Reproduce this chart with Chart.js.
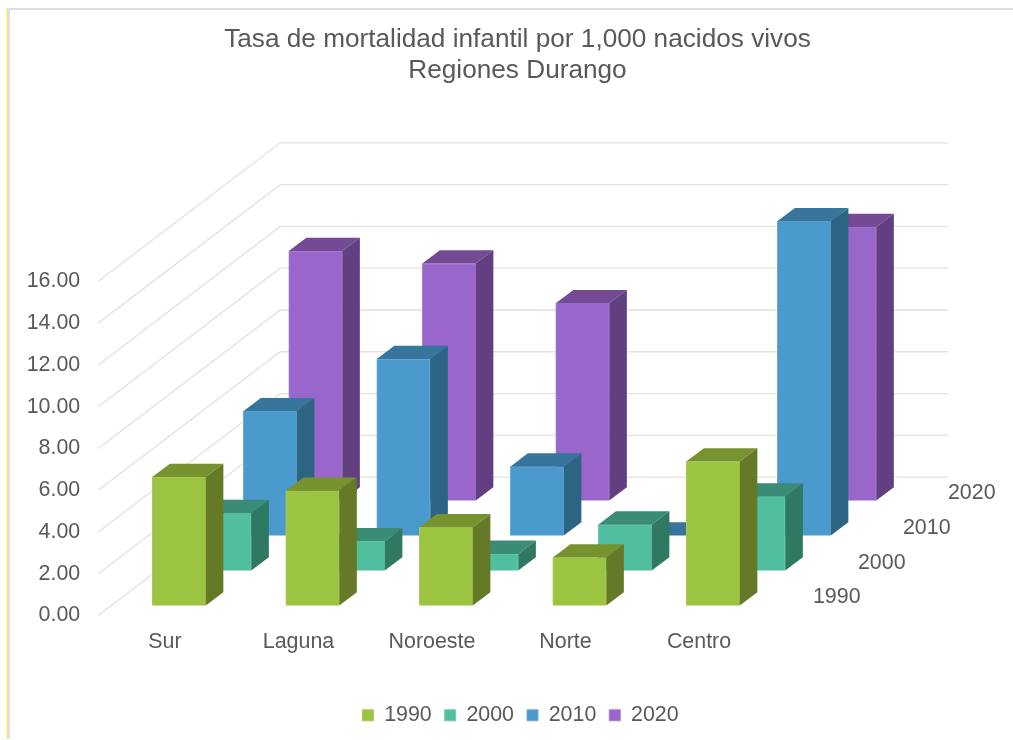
<!DOCTYPE html>
<html>
<head>
<meta charset="utf-8">
<script src="https://cdn.jsdelivr.net/npm/chart.js@4"></script>
<style>
html,body{margin:0;padding:0;background:#fff;}
#frame{position:absolute;left:7px;top:8px;width:1006px;height:731px;box-sizing:border-box;border-top:2px solid #dcdcdc;border-left:1px solid #f7f000;}
#frame:before{content:"";position:absolute;left:0;top:-2px;width:2px;height:calc(100% + 2px);background:#dce1ee;}
canvas{position:absolute;left:0;top:0;}
</style>
</head>
<body>
<div id="frame"></div>
<canvas id="c" width="1013" height="740"></canvas>
<script>
const titleLines = ["Tasa de mortalidad infantil por 1,000 nacidos vivos", "Regiones Durango"];
const categories = ["Sur", "Laguna", "Noroeste", "Norte", "Centro"];
const seriesNames = ["1990", "2000", "2010", "2020"];
const values1990 = [6.15, 5.5, 3.75, 2.3, 6.9];
const values2000 = [2.75, 1.4, 0.8, 2.2, 3.55];
const values2010 = [5.95, 8.45, 3.3, 0, 15.05];
const values2020 = [11.95, 11.35, 9.45, 0, 13.1];
const yTicks = [0, 2, 4, 6, 8, 10, 12, 14, 16];
const frontColors = ["#9BC441", "#50BFA0", "#4A9ACD", "#9966CC"];
const topColors = ["#76932F", "#3A8C77", "#37759C", "#754A95"];
const sideColors = ["#657A27", "#2F7963", "#2C6484", "#613F80"];
const edgeColors = ["#A8CC58", "#70CBB2", "#6DAED8", "#A97FD6"];

const TEXT = "#595959";
const FONT = "'Liberation Sans', Arial, sans-serif";
const base = {x: 14, y: -10};      // floor offset of the front row
const step = {x: 45.5, y: -35};    // offset between depth rows
const face = {x: 17.6, y: -13.3};  // depth of a bar
const wall = {x: 182, y: -138.5, right: 948};

const poly = (ctx, pts, color) => {
  ctx.fillStyle = color;
  ctx.beginPath();
  pts.forEach((p, i) => i ? ctx.lineTo(p[0], p[1]) : ctx.moveTo(p[0], p[1]));
  ctx.closePath();
  ctx.fill();
};

const threeD = {
  id: "threeD",
  afterLayout(chart) {
    chart.legend.left += 3;
    chart.legend.right += 3;
  },
  beforeDatasetsDraw(chart) {
    const {ctx, scales: {x, y}} = chart;
    ctx.save();
    ctx.lineWidth = 1.3;
    ctx.strokeStyle = "#e1e1e1";
    yTicks.forEach(t => {
      const py = y.getPixelForValue(t);
      ctx.beginPath();
      ctx.moveTo(x.left, py);
      ctx.lineTo(x.left + wall.x, py + wall.y);
      ctx.lineTo(wall.right, py + wall.y);
      ctx.stroke();
    });
    ctx.restore();
  },
  beforeDatasetDraw(chart, args) {
    const ctx = chart.ctx, i = args.index;
    ctx.save();
    ctx.translate(base.x + step.x * i, base.y + step.y * i);
  },
  afterDatasetDraw(chart, args) {
    const ctx = chart.ctx, i = args.index;
    args.meta.data.forEach(el => {
      const l = el.x - el.width / 2, r = el.x + el.width / 2, t = el.y, b = el.base;
      poly(ctx, [[l, t], [r, t], [r + face.x, t + face.y], [l + face.x, t + face.y]], topColors[i]);
      if (b - t > 0.5) {
        poly(ctx, [[r, t], [r + face.x, t + face.y], [r + face.x, b + face.y], [r, b]], sideColors[i]);
      }
    });
    ctx.restore();
  },
  afterDraw(chart) {
    const {ctx, scales: {x, y}} = chart;
    ctx.save();
    ctx.fillStyle = TEXT;
    ctx.font = "21.4px " + FONT;
    ctx.textAlign = "center";
    ctx.textBaseline = "middle";
    seriesNames.forEach((s, i) => {
      ctx.fillText(s, x.right + 71 + 45 * i, y.bottom - 18 - 34.7 * i);
    });
    ctx.restore();
  }
};

new Chart(document.getElementById("c"), {
  type: "bar",
  data: {
    labels: categories,
    datasets: [values1990, values2000, values2010, values2020].map((d, i) => ({
      label: seriesNames[i],
      data: d,
      backgroundColor: frontColors[i],
      borderColor: edgeColors[i],
      borderWidth: 1,
      clip: false,
      grouped: false,
      barThickness: 53.5
    }))
  },
  plugins: [threeD],
  options: {
    responsive: false,
    animation: false,
    layout: {padding: {left: 22, right: 0, top: 0, bottom: 4}},
    scales: {
      x: {
        grid: {display: false, drawTicks: false},
        border: {display: false},
        ticks: {color: TEXT, font: {family: FONT, size: 21.4}, padding: 14, maxRotation: 0, autoSkip: false},
        afterFit(s) { s.height = 76; }
      },
      y: {
        min: 0, max: 16,
        grid: {display: false, drawTicks: false},
        border: {display: false},
        ticks: {color: TEXT, font: {family: FONT, size: 21.4}, stepSize: 2, padding: 18, callback: v => v.toFixed(2)},
        afterFit(s) { s.width = 76.25; }
      },
      depth: {
        type: "linear",
        position: "right",
        grid: {display: false, drawTicks: false},
        border: {display: false},
        ticks: {display: false},
        afterFit(s) { s.width = 247.25; }
      }
    },
    plugins: {
      title: {
        display: true,
        text: titleLines,
        color: TEXT,
        font: {family: FONT, size: 26.2, weight: "normal", lineHeight: 1.19},
        padding: {top: 24, bottom: 195}
      },
      legend: {
        position: "bottom",
        labels: {color: TEXT, font: {family: FONT, size: 21.4}, boxWidth: 11, boxHeight: 11, padding: 13}
      },
      tooltip: {enabled: false}
    }
  }
});
</script>
</body>
</html>
